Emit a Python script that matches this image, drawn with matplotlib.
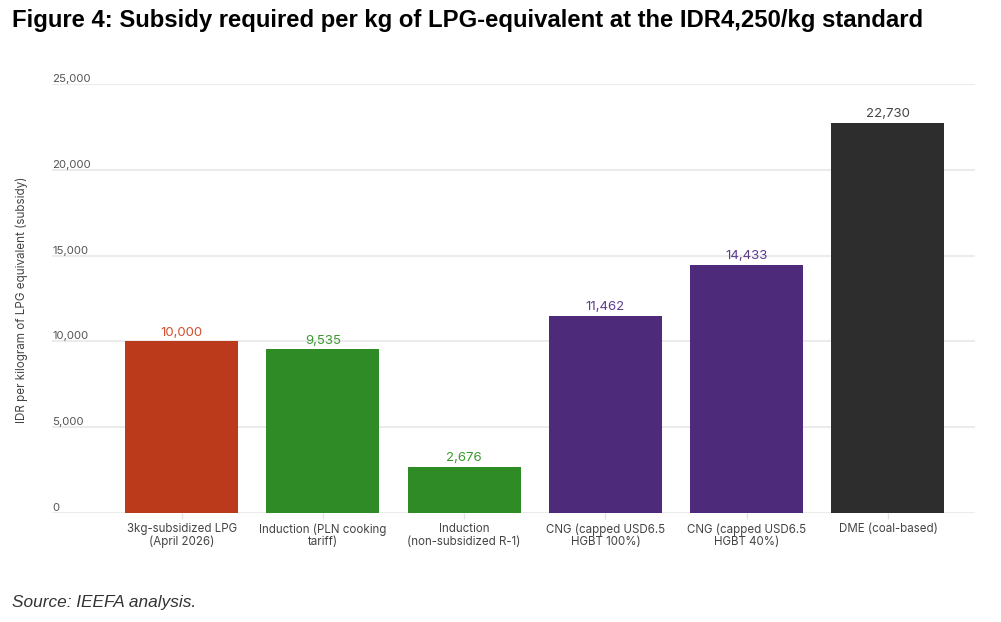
import matplotlib
matplotlib.use('Agg')
import matplotlib.pyplot as plt
import matplotlib.transforms as mtransforms

# chart data
categories = [
    "3kg-subsidized LPG\n(April 2026)",
    "Induction (PLN cooking\ntariff)",
    "Induction\n(non-subsidized R-1)",
    "CNG (capped USD6.5\nHGBT 100%)",
    "CNG (capped USD6.5\nHGBT 40%)",
    "DME (coal-based)",
]
subsidy = [10000, 9535, 2676, 11462, 14433, 22730]
y_ticks = [0, 5000, 10000, 15000, 20000, 25000]

bar_colors = ["#BB3A1B", "#2E8B25", "#2E8B25", "#4E2A7A", "#4E2A7A", "#2D2D2D"]
label_colors = ["#CF4F2C", "#3A9A2E", "#3A9A2E", "#5B3B8C", "#5B3B8C", "#444444"]

plt.rcParams['font.family'] = ['Inter', 'DejaVu Sans']

fig = plt.figure(figsize=(10.01, 6.22), dpi=100)
ax = fig.add_axes([0.052, 0.1752, 0.922, 0.69])

xs = list(range(len(categories)))
ax.bar(xs, subsidy, width=0.8, color=bar_colors, zorder=3)

for x, v, c in zip(xs, subsidy, label_colors):
    ax.annotate(f"{v:,}", (x, v), xytext=(0, 2), textcoords="offset points",
                ha="center", va="bottom", fontsize=9.5, color=c)

ax.set_xlim(-0.917, 5.616)
ax.set_ylim(0, 25000)

# gridlines and y labels sitting above them
trans = mtransforms.blended_transform_factory(ax.transAxes, ax.transData)
for t in y_ticks:
    ax.axhline(t, color="#EBEBEB", lw=1.5, zorder=1)
    ax.text(0, t, f"{t:,}", transform=trans, ha="left", va="bottom",
            fontsize=8.2, color="#555555")
ax.set_yticks([])

ax.set_xticks(xs)
ax.set_xticklabels(categories, fontsize=8.3, color="#444444", linespacing=1.05)
ax.tick_params(axis="x", length=4.5, width=1, color="#E3E3E3", pad=3)

for s in ax.spines.values():
    s.set_visible(False)

fig.text(0.022, 0.518, "IDR per kilogram of LPG equivalent (subsidy)", rotation=90,
         ha="center", va="center", fontsize=8.4, color="#444444")

fig.text(0.012, 0.967, "Figure 4: Subsidy required per kg of LPG-equivalent at the IDR4,250/kg standard",
         ha="left", va="center", fontsize=17.2, fontweight="bold",
         family=["Liberation Sans", "DejaVu Sans"], color="#000000")

fig.text(0.012, 0.032, "Source: IEEFA analysis.", ha="left", va="center",
         fontsize=12.4, style="italic", family=["Liberation Sans", "DejaVu Sans"],
         color="#333333")

fig.savefig("out.png", dpi=100)
plt.close(fig)
